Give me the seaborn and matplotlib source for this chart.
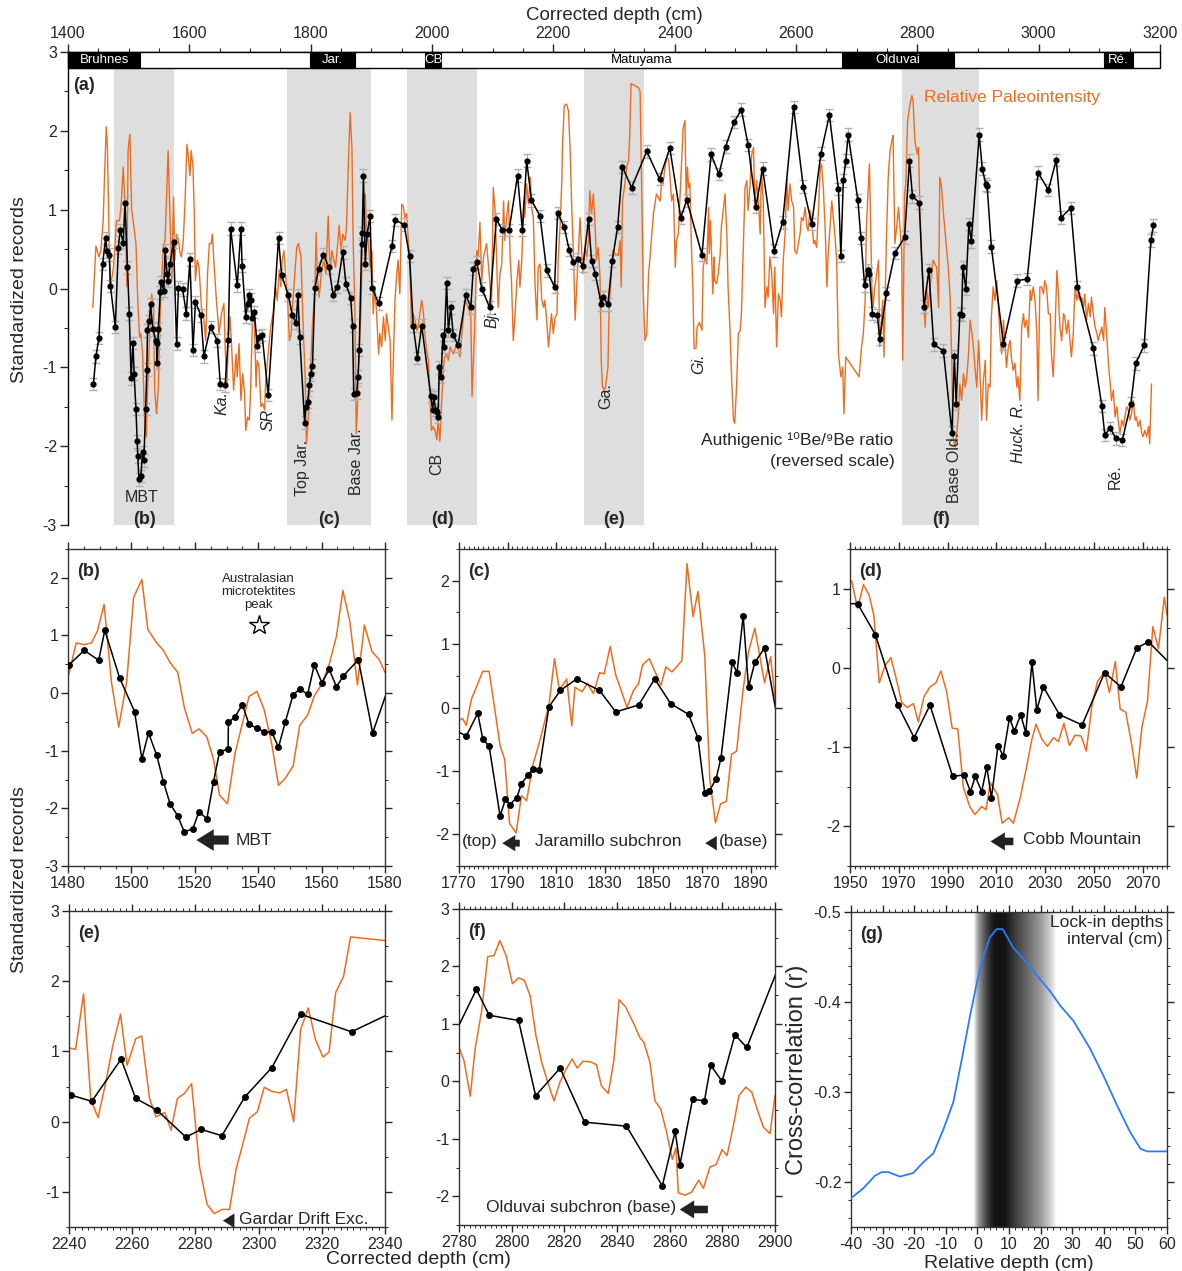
import numpy as np
import matplotlib
matplotlib.use("Agg")
import matplotlib.pyplot as plt
from matplotlib.patches import Rectangle
from matplotlib.ticker import MultipleLocator
import seaborn as sns

sns.set_theme(style="ticks")
plt.rcParams['font.family'] = ['Liberation Sans', 'DejaVu Sans']
plt.rcParams['axes.unicode_minus'] = False

ORANGE = '#f26b1d'
BAND = '#dedede'

# ---------------- panel (a) : whole record ----------------
be_depth = [1442, 1446, 1451, 1457, 1462, 1464, 1468, 1470, 1478, 1483, 1486, 1491, 1494, 1498, 1501, 1504,
            1507, 1509, 1512, 1514, 1515, 1517, 1520, 1523, 1525, 1528, 1530, 1531, 1534, 1536, 1540, 1545,
            1546, 1547, 1549, 1552, 1554, 1558, 1560, 1563, 1565, 1568, 1574, 1579, 1582, 1589, 1595, 1601,
            1606, 1610, 1619, 1624, 1635, 1646, 1651, 1659, 1664, 1668, 1679, 1685, 1687, 1693, 1696, 1698,
            1701, 1703, 1707, 1712, 1715, 1720, 1730, 1747, 1752, 1763, 1770, 1776, 1779, 1782, 1790, 1792,
            1795, 1798, 1800, 1803, 1807, 1813, 1821, 1830, 1837, 1844, 1853, 1858, 1866, 1869, 1871, 1876,
            1878, 1880, 1884, 1885, 1887, 1890, 1893, 1898, 1901, 1912, 1934, 1939, 1954, 1963, 1969, 1976,
            1983, 1998, 2001, 2003, 2006, 2008, 2010, 2012, 2015, 2018, 2020, 2024, 2027, 2031, 2035, 2043,
            2056, 2064, 2068, 2074, 2082, 2095, 2106, 2116, 2127, 2141, 2149, 2156, 2164, 2178, 2189, 2202,
            2207, 2218, 2226, 2233, 2241, 2249, 2258, 2263, 2269, 2279, 2282, 2290, 2297, 2306, 2314, 2329,
            2354, 2375, 2392, 2410, 2420, 2445, 2460, 2473, 2484, 2498, 2510, 2521, 2534, 2545, 2564, 2578,
            2596, 2612, 2626, 2641, 2655, 2670, 2674, 2678, 2682, 2686, 2702, 2707, 2713, 2718, 2721, 2726,
            2734, 2738, 2749, 2763, 2779, 2787, 2792, 2803, 2811, 2819, 2827, 2843, 2857, 2861, 2864, 2870,
            2873, 2875, 2880, 2885, 2889, 2902, 2907, 2913, 2915, 2922, 2942, 2965, 2981, 2999, 3016, 3029,
            3037, 3053, 3064, 3090, 3104, 3109, 3118, 3127, 3138, 3152, 3160, 3174, 3185, 3189]
be_value = [-1.21, -0.86, -0.63, 0.31, 0.64, 0.47, 0.43, 0.03, -0.49, 0.52, 0.74, 0.58, 1.09, 0.27, -0.32, -1.14,
            -0.69, -1.08, -1.53, -1.94, -2.13, -2.42, -2.38, -2.08, -2.18, -1.53, -1.03, -0.53, -0.41, -0.20, -0.52, -0.67,
            -0.69, -0.94, -0.51, -0.05, 0.08, -0.03, 0.49, 0.19, 0.10, 0.31, 0.59, -0.70, 0.01, -0.01, -0.32, 0.37,
            -0.78, -0.17, -0.34, -0.86, -0.49, -0.66, -1.21, -1.23, -0.65, 0.76, 0.04, 0.76, 0.29, -0.36, -0.20, -0.08,
            -0.14, -0.37, -0.30, -0.73, -0.61, -0.59, -1.35, 0.64, 0.17, -0.08, -0.34, -0.44, -0.08, -0.62, -1.70, -1.50,
            -1.44, -1.22, -1.09, -0.98, 0.01, 0.25, 0.43, 0.27, -0.08, 0.02, 0.46, 0.06, -0.12, -0.47, -1.34, -1.32,
            -1.12, -0.78, 0.56, 0.70, 1.43, 0.31, 0.69, 0.92, 0.01, -0.19, 0.54, 0.87, 0.81, 0.41, -0.47, -0.88,
            -0.47, -1.36, -1.54, -1.38, -1.54, -1.57, -1.63, -1.00, -1.12, -0.59, -0.74, 0.07, -0.53, -0.24, -0.59, -0.72,
            -0.08, -0.24, 0.25, 0.33, 0.00, -0.24, 0.88, 0.74, 0.74, 1.43, 0.74, 1.62, 1.12, 0.92, 0.23, 0.02,
            0.96, 0.78, 0.49, 0.33, 0.37, 0.29, 0.88, 0.35, 0.19, -0.20, -0.11, -0.20, 0.35, 0.78, 1.54, 1.28,
            1.74, 1.39, 1.78, 0.90, 1.12, 0.43, 1.70, 1.45, 1.80, 2.11, 2.27, 1.82, 1.04, 1.52, 0.48, 0.84,
            2.30, 1.29, 0.82, 1.71, 2.20, 1.26, 0.41, 1.37, 1.62, 1.95, 1.12, 0.64, 0.04, 0.23, 0.19, -0.32,
            -0.34, -0.64, -0.06, 0.45, 0.65, 1.62, 1.17, 1.09, -0.23, 0.23, -0.71, -0.79, -1.83, -0.86, -1.46, -0.32,
            -0.33, 0.27, 0.00, 0.82, 0.60, 1.95, 1.52, 1.32, 1.30, 0.53, -0.70, 0.10, 0.12, 1.47, 1.25, 1.63,
            0.90, 1.02, 0.02, -0.76, -1.49, -1.86, -1.77, -1.90, -1.92, -1.46, -0.95, -0.72, 0.61, 0.80]
be_err = 0.08

rpi_depth = [1441, 1446, 1451, 1454, 1458, 1460, 1463, 1465, 1468, 1470, 1475, 1480, 1485, 1488, 1491, 1494,
             1497, 1499, 1502, 1505, 1508, 1512, 1515, 1518, 1520, 1523, 1526, 1529, 1531, 1535, 1538, 1541,
             1543, 1546, 1549, 1552, 1554, 1557, 1560, 1563, 1565, 1568, 1571, 1574, 1576, 1579, 1582, 1585,
             1587, 1590, 1593, 1596, 1598, 1601, 1603, 1606, 1608, 1610, 1613, 1616, 1620, 1624, 1627, 1630,
             1633, 1636, 1638, 1641, 1645, 1649, 1653, 1657, 1659, 1662, 1664, 1667, 1670, 1673, 1677, 1679,
             1682, 1685, 1688, 1691, 1693, 1696, 1699, 1701, 1704, 1707, 1710, 1712, 1715, 1718, 1721, 1724,
             1726, 1730, 1734, 1738, 1742, 1745, 1748, 1751, 1753, 1756, 1759, 1762, 1765, 1768, 1770, 1774,
             1777, 1780, 1784, 1788, 1791, 1793, 1796, 1800, 1803, 1807, 1809, 1811, 1814, 1818, 1822, 1825,
             1829, 1832, 1835, 1837, 1841, 1844, 1847, 1850, 1853, 1857, 1859, 1862, 1865, 1868, 1870, 1873,
             1875, 1877, 1880, 1883, 1885, 1887, 1890, 1892, 1895, 1898, 1901, 1903, 1906, 1909, 1912, 1914,
             1917, 1920, 1923, 1925, 1928, 1931, 1934, 1936, 1939, 1942, 1944, 1947, 1950, 1953, 1955, 1958,
             1961, 1964, 1966, 1969, 1972, 1975, 1977, 1980, 1983, 1986, 1988, 1991, 1994, 1997, 1999, 2002,
             2005, 2008, 2010, 2013, 2016, 2019, 2021, 2024, 2027, 2030, 2035, 2041, 2046, 2054, 2060, 2064,
             2066, 2070, 2074, 2076, 2079, 2082, 2085, 2090, 2096, 2098, 2101, 2104, 2107, 2109, 2112, 2115,
             2118, 2120, 2123, 2126, 2129, 2131, 2134, 2137, 2140, 2143, 2145, 2148, 2151, 2153, 2156, 2159,
             2162, 2164, 2167, 2170, 2173, 2175, 2178, 2181, 2184, 2186, 2189, 2192, 2195, 2197, 2200, 2203,
             2206, 2208, 2211, 2214, 2215, 2218, 2222, 2225, 2228, 2230, 2233, 2236, 2239, 2241, 2244, 2247,
             2249, 2252, 2255, 2258, 2260, 2263, 2266, 2269, 2271, 2274, 2277, 2279, 2281, 2284, 2286, 2290,
             2292, 2295, 2298, 2302, 2307, 2310, 2312, 2314, 2318, 2321, 2324, 2326, 2328, 2340, 2343, 2346,
             2348, 2351, 2354, 2357, 2359, 2365, 2370, 2376, 2379, 2381, 2384, 2387, 2390, 2392, 2395, 2398,
             2401, 2403, 2406, 2409, 2412, 2414, 2417, 2419, 2421, 2423, 2425, 2428, 2430, 2432, 2435, 2437,
             2441, 2445, 2447, 2450, 2453, 2456, 2457, 2459, 2463, 2465, 2466, 2469, 2472, 2475, 2477, 2480,
             2483, 2486, 2488, 2491, 2494, 2497, 2499, 2502, 2505, 2508, 2510, 2513, 2516, 2519, 2521, 2524,
             2527, 2530, 2532, 2535, 2538, 2541, 2543, 2546, 2549, 2552, 2554, 2557, 2560, 2563, 2565, 2568,
             2571, 2574, 2576, 2579, 2582, 2585, 2587, 2590, 2593, 2596, 2598, 2601, 2604, 2607, 2609, 2612,
             2615, 2618, 2620, 2623, 2626, 2629, 2631, 2634, 2637, 2640, 2642, 2645, 2648, 2651, 2653, 2656,
             2659, 2662, 2664, 2667, 2670, 2674, 2677, 2679, 2682, 2689, 2697, 2704, 2708, 2711, 2714, 2716,
             2721, 2725, 2727, 2730, 2736, 2738, 2743, 2745, 2749, 2752, 2755, 2758, 2760, 2763, 2766, 2769,
             2771, 2774, 2776, 2779, 2781, 2784, 2788, 2791, 2793, 2796, 2800, 2802, 2804, 2807, 2810, 2813,
             2815, 2818, 2821, 2824, 2826, 2829, 2832, 2835, 2837, 2840, 2843, 2847, 2851, 2854, 2857, 2859,
             2862, 2865, 2868, 2870, 2873, 2876, 2879, 2881, 2884, 2887, 2890, 2892, 2895, 2898, 2901, 2903,
             2906, 2909, 2912, 2914, 2917, 2920, 2922, 2925, 2928, 2931, 2933, 2936, 2939, 2942, 2944, 2947,
             2950, 2953, 2955, 2958, 2961, 2964, 2966, 2969, 2972, 2975, 2977, 2980, 2983, 2986, 2988, 2991,
             2994, 2997, 2999, 3002, 3005, 3008, 3010, 3013, 3016, 3019, 3021, 3024, 3027, 3030, 3032, 3035,
             3038, 3041, 3043, 3046, 3049, 3052, 3054, 3057, 3060, 3063, 3065, 3068, 3071, 3074, 3076, 3079,
             3082, 3085, 3087, 3090, 3093, 3096, 3098, 3101, 3104, 3107, 3109, 3112, 3115, 3118, 3120, 3123,
             3126, 3129, 3131, 3134, 3137, 3140, 3142, 3145, 3148, 3150, 3153, 3156, 3159, 3161, 3164, 3167,
             3170, 3172, 3175, 3178, 3181, 3183, 3186]
rpi_value = [-0.24, 0.54, 0.40, 0.48, 0.86, 1.37, 2.05, 1.79, 0.52, 0.02, 0.27, 0.86, 0.86, 1.11, 1.54, 1.07,
             0.02, 1.75, 1.96, 0.99, 0.82, 0.57, -0.15, -0.62, -0.57, -0.83, -1.59, -1.88, -1.33, -0.49, -0.07, -0.24,
             -1.29, -1.59, -1.25, -0.32, 0.06, 0.52, 0.61, 1.28, 1.75, 0.90, 0.10, 1.16, 0.36, 0.69, 0.61, 0.44,
             0.40, 0.61, 1.11, 1.83, 1.71, 1.43, 1.75, 1.54, 0.99, 0.10, 0.36, 0.27, -0.24, -0.40, -0.66, 0.19,
             0.57, 0.57, 0.69, 0.27, -0.19, -0.57, -0.32, -0.19, -0.74, -1.25, -0.70, -0.36, -0.78, -1.29, -0.83, -1.12,
             -0.70, -1.42, -1.08, -1.33, -1.80, -1.63, -1.67, -1.29, -0.40, -0.32, -1.25, -0.91, -1.00, -1.50, -1.46, -1.54,
             -1.16, -0.83, -0.49, -0.32, 0.02, -0.15, 0.23, 0.02, 0.36, 0.48, 0.14, -0.15, -0.66, -0.57, -0.24, 0.19,
             0.52, 0.57, 0.40, -0.57, -1.12, -1.97, -1.67, -1.00, -0.45, 0.00, 0.71, 0.14, -0.11, 0.23, 0.36, 0.19,
             0.92, 0.19, 0.48, 0.40, 0.27, 0.52, 0.80, 0.48, 0.69, 0.61, 0.78, 1.54, 2.23, 1.79, 0.61, -0.32,
             -1.84, -1.54, -0.83, -0.24, 0.52, 1.11, 1.20, 0.69, 0.61, 0.27, 0.48, -0.32, 0.02, -0.36, -0.83, -0.57,
             -0.74, -0.36, -0.66, -0.32, -0.49, -0.66, -1.67, -1.00, -0.15, 0.19, 0.36, -0.07, 1.07, 1.03, 0.90, 0.95,
             0.61, 0.19, -0.45, -0.32, -0.40, -0.53, -0.49, -0.32, -0.15, -0.32, -0.57, -0.78, -0.91, -1.42, -1.80, -1.75,
             -1.80, -1.92, -1.67, -1.94, -1.42, -1.00, -0.87, -0.83, -0.91, -0.74, -0.83, -0.70, -0.87, -0.15, -0.24, -0.36,
             -1.37, -0.57, 0.48, 0.40, 0.84, 0.10, 0.40, 0.57, 0.02, -0.26, 1.28, 0.99, 0.23, -0.24, 0.19, 0.31,
             1.11, 0.61, 0.90, 1.11, 0.36, 0.10, -0.66, -0.32, 0.10, 0.36, 0.02, 0.36, 1.11, 0.90, 1.33, 1.07,
             1.41, 1.03, 0.90, 0.02, -0.40, 0.27, 0.31, -0.15, -0.24, -0.15, -0.40, -0.74, -0.49, -0.32, -0.57, -0.36,
             -0.32, 0.36, 0.78, 1.37, 1.79, 2.32, 2.34, 2.25, 1.70, 1.11, 0.48, -0.40, 0.10, 0.40, 0.90, 0.44,
             0.19, 0.52, 0.40, 0.61, 1.24, 0.95, 1.20, 0.78, 0.36, 0.52, 0.14, -0.91, -1.25, -1.29, -1.25, -1.00,
             -0.24, 0.10, 0.48, 0.44, 0.42, 0.61, 0.02, 1.11, 1.33, 1.54, 1.62, 1.96, 2.60, 2.55, 2.50, 1.11,
             0.02, -0.66, -0.57, 0.19, 0.36, 0.95, 1.20, 1.11, 1.37, 1.33, 1.54, 1.66, 1.64, 1.45, 1.11, 1.20,
             0.27, 0.61, 0.69, 1.20, 1.70, 2.04, 2.13, 1.11, 1.54, 1.28, 1.33, 0.44, 0.02, -0.76, -0.76, -0.49,
             -0.43, -0.53, 0.27, 0.40, 0.31, 1.03, 0.44, 0.86, -0.07, 0.40, 0.10, 0.06, 0.19, 0.44, 0.78, 0.99,
             1.20, 0.69, 0.02, -0.49, -1.16, -1.67, -1.71, -1.25, -0.57, -0.53, -0.32, 0.48, 1.28, 1.37, 0.99, 1.28,
             1.70, 1.79, 1.03, 1.37, 1.11, 0.69, 1.49, 1.11, -0.24, 0.02, -0.11, 0.40, 0.19, -0.32, 0.27, -0.74,
             -0.07, -0.15, -0.36, 0.36, 0.69, 1.39, 0.99, 1.33, 1.11, 1.03, 0.48, 0.44, 0.57, 0.71, 0.90, 0.86,
             1.03, 0.78, 0.73, 0.99, 0.86, 0.57, 0.61, 0.52, 0.99, 1.54, 1.58, 1.28, 0.78, 0.02, 0.44, 0.78,
             1.11, 0.86, 0.69, 0.36, -0.83, -1.12, -1.00, -1.59, -0.87, -0.95, -1.04, -1.12, -0.74, -0.57, -0.15, 0.78,
             1.58, 0.02, -0.24, 0.02, 0.36, -0.74, -0.15, -0.87, 0.61, 1.41, 1.75, 1.87, 1.94, 0.57, 0.78, 1.03,
             0.82, 0.48, -0.91, 1.20, 1.33, 2.13, 2.34, 2.45, 2.38, 1.87, 1.70, 1.79, 1.07, 0.36, -0.11, -0.49,
             0.02, -0.24, 0.02, 0.23, 0.36, 0.31, 0.27, -0.24, 1.41, 1.28, 0.95, 0.61, 0.27, -0.11, -1.00, -1.88,
             -2.01, -1.84, -1.54, -1.21, -1.42, -1.08, -1.25, -1.16, -0.87, -0.40, -0.57, -0.70, -1.00, -1.25, -0.66, -1.00,
             -1.67, -1.16, -0.91, -1.67, -1.21, -1.25, -0.36, 0.02, -0.15, 0.10, -0.15, -0.57, -0.83, -0.40, -0.66, -1.00,
             -0.74, -0.66, -0.87, -1.04, -0.95, -1.25, -1.12, -1.42, -0.49, -0.32, -0.49, -0.40, -0.62, -0.02, -0.15, 0.02,
             -0.15, -0.57, -1.42, 0.02, 0.02, -0.07, 0.10, 0.02, -0.32, -0.32, -0.83, -1.12, -0.53, 0.23, 0.02, -0.49,
             -0.66, -0.32, -0.36, -0.57, -0.40, -0.70, -0.87, -0.57, 0.02, -0.15, -0.07, -0.15, -0.11, -0.24, -0.07, -0.40,
             -0.19, -0.36, -0.11, -0.32, -0.49, -0.57, -0.66, -0.57, -0.49, -0.66, -0.24, -0.57, -0.95, -1.21, -1.42, -1.29,
             -1.63, -1.50, -1.67, -1.84, -1.67, -1.75, -1.63, -1.50, -1.54, -1.67, -1.59, -1.42, -1.67, -1.63, -1.75, -1.67,
             -1.84, -1.88, -1.80, -1.88, -1.75, -1.97, -1.21]

window_bands = [(1476, 1575), (1761, 1899), (1959, 2074), (2250, 2349), (2775, 2902)]
window_names = ['(b)', '(c)', '(d)', '(e)', '(f)']
chron_black = [(1400, 1519, 'Bruhnes'), (1799, 1873, 'Jar.'), (1989, 2015, 'CB'),
               (2676, 2861, 'Olduvai'), (3108, 3155, 'Ré.')]

# ---------------- zoom windows ----------------
b_be_depth = [1480.3, 1485.1, 1489.7, 1491.6, 1496.3, 1501.0, 1503.3, 1505.4, 1508.0, 1510.1, 1512.2, 1514.6,
              1516.7, 1519.4, 1521.3, 1523.8, 1525.9, 1527.8, 1530.5, 1530.6, 1532.7, 1535.0, 1537.1, 1539.6,
              1541.9, 1544.3, 1546.4, 1548.5, 1551.0, 1553.1, 1555.6, 1557.7, 1560.1, 1562.4, 1564.7, 1566.9,
              1571.6, 1576.1, 1583.0]
b_be_value = [0.49, 0.74, 0.57, 1.09, 0.26, -0.32, -1.14, -0.69, -1.08, -1.54, -1.92, -2.13, -2.41, -2.35,
              -2.06, -2.18, -1.54, -1.02, -0.97, -0.51, -0.41, -0.20, -0.54, -0.61, -0.67, -0.68, -0.94, -0.51,
              -0.03, 0.07, -0.02, 0.49, 0.18, 0.41, 0.11, 0.30, 0.58, -0.69, 0.40]
b_rpi_depth = [1480, 1482.6, 1485.1, 1487.4, 1489.3, 1491.4, 1493.7, 1496.0, 1498.5, 1500.7, 1503.3, 1505.2,
               1508.0, 1510.1, 1512.2, 1514.6, 1516.7, 1519.2, 1521.3, 1523.8, 1525.9, 1527.8, 1530.3, 1532.7,
               1535.0, 1537.1, 1539.6, 1541.9, 1544.3, 1546.4, 1548.5, 1551.0, 1553.1, 1555.6, 1557.7, 1560.1,
               1562.4, 1564.7, 1566.7, 1568.9, 1571.3, 1573.5, 1575.9, 1578.2, 1580]
b_rpi_value = [0.27, 0.87, 0.84, 0.87, 1.08, 1.54, 0.19, -0.59, 0.19, 1.66, 1.97, 1.10, 0.87, 0.74, 0.53, 0.36,
               -0.25, -0.70, -0.62, -0.76, -1.15, -1.77, -1.92, -1.04, -0.53, -0.06, 0.03, -0.29, -0.89, -1.60,
               -1.48, -1.27, -0.56, -0.38, -0.05, 0.16, 0.50, 0.99, 1.78, 1.25, 0.14, 1.18, 0.72, 0.58, 0.36]

c_be_depth = [1768, 1773.0, 1777.7, 1779.8, 1782.4, 1786.9, 1789.1, 1791.0, 1793.8, 1795.7, 1798.5, 1800.5,
              1803.0, 1807.0, 1811.7, 1818.4, 1827.8, 1834.5, 1843.9, 1850.5, 1857.1, 1864.5, 1868.3, 1871.1,
              1873.0, 1875.8, 1877.8, 1882.4, 1884.4, 1886.9, 1889.1, 1891.7, 1895.7, 1903]
c_be_value = [-0.35, -0.45, -0.09, -0.50, -0.61, -1.71, -1.45, -1.53, -1.42, -1.20, -1.06, -0.97, -0.98, 0.01,
              0.27, 0.45, 0.27, -0.07, 0.04, 0.45, 0.06, -0.11, -0.48, -1.35, -1.32, -1.12, -0.79, 0.71, 0.55,
              1.45, 0.32, 0.71, 0.94, -0.60]
c_rpi_depth = [1770, 1771.4, 1773.0, 1775.1, 1779.8, 1782.4, 1784.3, 1786.9, 1788.8, 1790.8, 1793.5, 1795.7,
               1797.8, 1800.5, 1803.0, 1807.0, 1809.3, 1811.3, 1814.3, 1816.4, 1817.7, 1820.6, 1822.8, 1825.3,
               1827.8, 1829.7, 1832.2, 1834.5, 1837.0, 1839.1, 1841.8, 1843.9, 1845.5, 1848.3, 1850.7, 1853.1,
               1855.1, 1857.6, 1861.7, 1863.8, 1866.3, 1868.3, 1871.1, 1873.2, 1875.5, 1877.6, 1880.0, 1882.1,
               1884.2, 1886.9, 1889.1, 1891.7, 1895.7, 1898.2, 1900]
c_rpi_value = [-0.21, -0.17, -0.28, 0.13, 0.57, 0.57, 0.08, -0.60, -0.82, -1.83, -1.98, -1.39, -1.47, -0.89,
               -0.56, 0.04, 0.77, 0.28, 0.45, -0.29, 0.32, 0.25, 0.38, 0.22, 0.55, 0.53, 0.96, 0.51, 0.24, 0.00,
               0.27, 0.38, 0.67, 0.77, 0.56, 0.35, 0.64, 0.56, 0.74, 2.27, 1.43, 1.83, 0.82, -1.14, -1.82, -1.52,
               -1.48, -0.74, -0.69, 0.29, 0.88, 1.25, 0.39, 0.80, 0.15]

d_be_depth = [1947, 1953.1, 1960.4, 1969.6, 1976.3, 1982.8, 1992.1, 1996.8, 1999.4, 2001.4, 2004.0, 2006.1,
              2008.0, 2010.7, 2012.8, 2015.4, 2017.4, 2020.0, 2022.1, 2024.6, 2026.6, 2029.3, 2035.9, 2045.2,
              2054.4, 2061.1, 2067.6, 2072.4, 2083]
d_be_value = [0.81, 0.81, 0.42, -0.47, -0.88, -0.47, -1.37, -1.35, -1.56, -1.37, -1.56, -1.25, -1.64, -0.98,
              -1.11, -0.63, -0.80, -0.59, -0.82, 0.07, -0.53, -0.24, -0.59, -0.72, -0.06, -0.24, 0.25, 0.33, 0.0]
d_rpi_depth = [1950, 1950.7, 1953.1, 1955.5, 1957.8, 1959.8, 1962.0, 1964.4, 1966.8, 1969.6, 1971.2, 1973.5,
               1976.0, 1978.0, 1980.4, 1982.8, 1985.2, 1987.3, 1989.7, 1991.9, 1994.2, 1996.5, 1999.1, 2001.2,
               2004.0, 2005.8, 2007.5, 2010.5, 2012.4, 2015.1, 2017.0, 2019.8, 2022.1, 2024.6, 2026.3, 2028.7,
               2031.0, 2033.4, 2035.5, 2037.7, 2040.0, 2042.3, 2044.8, 2046.9, 2049.2, 2051.5, 2054.4, 2056.4,
               2058.8, 2060.8, 2063.1, 2065.6, 2067.6, 2069.7, 2072.0, 2074.2, 2076.5, 2078.9, 2080]
d_rpi_value = [1.09, 1.10, 0.75, 1.05, 0.92, 0.66, -0.19, 0.03, 0.13, -0.22, -0.44, -0.50, -0.45, -0.68, -0.36,
               -0.24, -0.19, -0.04, -0.31, -0.76, -0.77, -1.51, -1.75, -1.85, -1.75, -1.79, -1.45, -1.60, -1.96,
               -1.89, -1.96, -1.64, -1.30, -0.90, -0.71, -0.90, -0.99, -0.88, -0.93, -0.70, -0.98, -0.85, -0.86,
               -1.05, -0.48, -0.17, -0.05, -0.31, 0.08, -0.52, -0.56, -0.98, -1.39, -0.75, -0.42, 0.52, 0.24, 0.89,
               0.67]

e_be_depth = [2240.5, 2247.2, 2256.5, 2261.1, 2267.7, 2277.0, 2281.8, 2288.4, 2295.6, 2304.2, 2313.3, 2329.4, 2350]
e_be_value = [0.38, 0.29, 0.89, 0.33, 0.17, -0.22, -0.11, -0.20, 0.35, 0.77, 1.53, 1.28, 1.72]
e_rpi_depth = [2240.0, 2242.1, 2244.6, 2246.9, 2249.2, 2251.6, 2253.8, 2256.3, 2258.4, 2261.1, 2263.0, 2265.5,
               2267.5, 2270.3, 2272.3, 2274.3, 2276.5, 2278.8, 2281.3, 2283.7, 2286.0, 2288.4, 2290.8, 2292.9,
               2295.0, 2297.1, 2299.6, 2301.8, 2304.2, 2306.7, 2308.8, 2311.1, 2313.3, 2315.7, 2318.0, 2320.4,
               2322.3, 2324.4, 2326.9, 2329.1, 2340]
e_rpi_value = [1.05, 1.03, 1.82, 0.31, 0.06, 0.55, 1.07, 1.53, 0.80, 1.18, 1.22, 0.33, 0.07, 0.13, -0.12, 0.33,
               0.40, 0.54, -0.64, -1.18, -1.31, -1.25, -1.25, -0.67, -0.32, 0.05, 0.14, 0.49, 0.43, 0.41, 0.46,
               0.00, 1.31, 1.62, 1.17, 0.92, 0.99, 1.84, 2.07, 2.63, 2.58]

f_be_depth = [2776, 2786.6, 2791.5, 2802.6, 2809.1, 2818.4, 2827.7, 2843.6, 2857.2, 2862.1, 2863.9, 2868.7,
              2873.2, 2875.6, 2879.9, 2884.8, 2889.3, 2904]
f_be_value = [0.60, 1.60, 1.15, 1.06, -0.25, 0.23, -0.71, -0.78, -1.82, -0.87, -1.45, -0.31, -0.34, 0.28, 0.00,
              0.81, 0.59, 2.30]
f_rpi_depth = [2780.0, 2781.9, 2784.3, 2786.1, 2788.6, 2790.9, 2793.3, 2795.5, 2797.9, 2800.3, 2802.6, 2804.8,
               2807.0, 2809.2, 2811.4, 2813.8, 2816.1, 2818.3, 2820.5, 2823.0, 2824.9, 2827.1, 2829.9, 2832.2,
               2834.1, 2836.7, 2838.8, 2840.8, 2843.2, 2846.2, 2848.7, 2850.2, 2852.5, 2854.4, 2856.6, 2858.8,
               2861.0, 2862.4, 2863.3, 2865.8, 2868.3, 2871.0, 2872.8, 2875.3, 2877.6, 2879.9, 2881.8, 2884.2,
               2886.3, 2888.9, 2891.2, 2893.7, 2895.6, 2898.1, 2900]
f_rpi_value = [0.59, 0.36, -0.26, 0.56, 1.23, 2.17, 2.19, 2.45, 2.19, 1.70, 1.80, 1.76, 1.49, 0.80, 0.33, -0.03,
               -0.34, -0.02, 0.20, 0.39, 0.23, 0.35, 0.34, 0.29, -0.08, -0.21, 0.36, 1.42, 1.30, 1.02, 0.76, 0.68,
               0.33, -0.34, -0.48, -0.88, -1.36, -1.16, -1.94, -1.98, -1.93, -1.72, -1.86, -1.49, -1.45, -1.19,
               -1.29, -0.77, -0.25, -0.10, -0.19, -0.55, -0.80, -0.91, -0.25]

# ---------------- (g) cross-correlation ----------------
lag_cm = [-40, -36.1, -32.4, -30.3, -28.2, -24.5, -20.3, -17.1, -13.9, -10.7, -7.6, -4.9, -2.3, -0.2, 1.9,
          4.0, 6.1, 8.0, 11.4, 15.6, 19.9, 23.0, 26.2, 30.4, 35.7, 39.9, 44.2, 48.4, 51.6, 53.7, 60]
xcorr_r = [-0.182, -0.193, -0.207, -0.211, -0.211, -0.206, -0.210, -0.222, -0.232, -0.259, -0.289, -0.337,
           -0.385, -0.421, -0.451, -0.472, -0.481, -0.481, -0.460, -0.444, -0.425, -0.412, -0.396, -0.379,
           -0.348, -0.318, -0.285, -0.255, -0.237, -0.234, -0.234]
lockin_x = [-1.2, 0, 2, 4, 5.5, 8.5, 12, 16, 20, 23, 25]
lockin_shade = [0.05, 0.4, 0.7, 0.92, 1, 1, 0.82, 0.62, 0.42, 0.2, 0.0]

W, H = 1182, 1271
fig = plt.figure(figsize=(W / 100, H / 100), dpi=100)


def px_axes(left, top, right, bottom):
    return fig.add_axes([left / W, 1 - bottom / H, (right - left) / W, (bottom - top) / H])


def draw_pair(ax, rd, rv, bd, bv, ms=5):
    sns.lineplot(x=rd, y=rv, ax=ax, color=ORANGE, lw=1.1, sort=False, estimator=None, zorder=2)
    sns.lineplot(x=bd, y=bv, ax=ax, color='black', lw=1.1, marker='o', markersize=ms,
                 markeredgewidth=0, sort=False, estimator=None, zorder=3)


def arrow(ax, x_tail, x_head, y, size=1.0):
    ax.annotate('', xy=(x_head, y), xytext=(x_tail, y),
                arrowprops=dict(arrowstyle='simple,head_width=1.0,head_length=0.8,tail_width=0.42',
                                mutation_scale=13 * size, shrinkA=0, shrinkB=0,
                                color='#222222', lw=0))


# ---------- (a) ----------
ax = px_axes(68, 52, 1160, 525)
for (x0, x1), nm in zip(window_bands, window_names):
    ax.fill_between([x0, x1], -3, 2.8, color=BAND, lw=0, zorder=0)
    ax.text((x0 + x1) / 2, -2.93, nm, ha='center', va='center', fontsize=13, fontweight='bold')
sns.lineplot(x=rpi_depth, y=rpi_value, ax=ax, color=ORANGE, lw=1.0, sort=False, estimator=None, zorder=2)
ax.errorbar(be_depth, be_value, yerr=be_err, fmt='none', ecolor='#b0b0b0', elinewidth=0.8, capsize=3, zorder=2.5)
sns.lineplot(x=be_depth, y=be_value, ax=ax, color='black', lw=1.1, marker='o', markersize=4.5,
             markeredgewidth=0, sort=False, estimator=None, zorder=3)

ax.add_patch(Rectangle((1400, 2.8), 1800, 0.2, fc='white', ec='black', lw=1, zorder=4, clip_on=False))
for x0, x1, nm in chron_black:
    ax.add_patch(Rectangle((x0, 2.8), x1 - x0, 0.2, fc='black', ec='black', lw=0.8, zorder=4))
    ax.text((x0 + x1) / 2, 2.9, nm, color='white', ha='center', va='center', fontsize=9.5, zorder=5)
ax.text(2346, 2.9, 'Matuyama', color='black', ha='center', va='center', fontsize=9.5, zorder=5)

ax.set_xlim(1400, 3200)
ax.set_ylim(-3, 3)
ax.xaxis.tick_top()
ax.xaxis.set_label_position('top')
ax.set_xlabel('Corrected depth (cm)', fontsize=13.5, labelpad=4)
ax.set_ylabel('')
ax.xaxis.set_major_locator(MultipleLocator(200))
ax.xaxis.set_minor_locator(MultipleLocator(50))
ax.yaxis.set_major_locator(MultipleLocator(1))
ax.yaxis.set_minor_locator(MultipleLocator(0.5))
ax.tick_params(axis='both', which='major', labelsize=11.5, length=6, width=1, direction='out', pad=2)
ax.tick_params(axis='both', which='minor', length=3, width=0.8, direction='out')
for s in ['right', 'bottom']:
    ax.spines[s].set_visible(False)
for s in ['left', 'top']:
    ax.spines[s].set_linewidth(1)
    ax.spines[s].set_color('black')

ax.text(1408, 2.57, '(a)', fontsize=13, fontweight='bold', va='center')
ax.text(2811, 2.42, 'Relative Paleointensity', color=ORANGE, fontsize=12.5, va='center')
ax.text(2760, -1.92, 'Authigenic ¹⁰Be/⁹Be ratio', fontsize=12.5, ha='right', va='center')
ax.text(2762, -2.2, '(reversed scale)', fontsize=12.5, ha='right', va='center')
ax.text(1522, -2.65, 'MBT', fontsize=11.5, ha='center', va='center')
rot_labels = [(1654, -1.45, 'Ka.', 'italic'), (1730, -1.67, 'SR', 'italic'),
              (1787, -2.28, 'Top Jar.', 'normal'), (1875, -2.2, 'Base Jar.', 'normal'),
              (2008, -2.22, 'CB', 'normal'), (2099, -0.38, 'Bj.', 'italic'),
              (2287, -1.37, 'Ga.', 'normal'), (2440, -0.95, 'Gi.', 'italic'),
              (2862, -2.28, 'Base Old.', 'normal'), (2966, -1.82, 'Huck. R.', 'italic'),
              (3126, -2.38, 'Ré.', 'normal')]
for x, y, t, st in rot_labels:
    ax.text(x, y, t, rotation=90, fontsize=11.5, style=st, ha='center', va='center')

fig.text(20 / W, 1 - 290 / H, 'Standardized records', rotation=90, fontsize=14, ha='center', va='center')
fig.text(20 / W, 1 - 880 / H, 'Standardized records', rotation=90, fontsize=14, ha='center', va='center')
fig.text(418 / W, 1 - 1260 / H, 'Corrected depth (cm)', fontsize=14, ha='center', va='center')


def style_sub(ax, xlim, xticks, ylim, label, xminor=2, yminor=0.5, ymajor=1):
    ax.set_xlim(*xlim)
    ax.set_ylim(*ylim)
    ax.set_xticks(xticks)
    ax.xaxis.set_minor_locator(MultipleLocator(xminor))
    ax.yaxis.set_major_locator(MultipleLocator(ymajor))
    ax.yaxis.set_minor_locator(MultipleLocator(yminor))
    ax.tick_params(axis='both', which='both', top=True, right=True, direction='out')
    ax.tick_params(axis='both', which='major', labelsize=11.5, length=5, width=1, pad=2)
    ax.tick_params(axis='both', which='minor', length=2.5, width=0.7)
    ax.set_xlabel('')
    ax.set_ylabel('')
    for s in ax.spines.values():
        s.set_linewidth(1)
        s.set_color('#333333')
    ax.text(0.03, 0.955, label, transform=ax.transAxes, fontsize=13, fontweight='bold', va='top')


# ---------- (b) ----------
ax = px_axes(68, 549, 385, 866)
draw_pair(ax, b_rpi_depth, b_rpi_value, b_be_depth, b_be_value)
style_sub(ax, (1480, 1580), range(1480, 1581, 20), (-3, 2.5), '(b)', xminor=5)
ax.plot(1540.2, 1.18, marker='*', ms=15, mfc='white', mec='black', mew=1)
ax.text(1540, 1.75, 'Australasian\nmicrotektites\npeak', fontsize=9.5, ha='center', va='center', linespacing=1.1)
arrow(ax, 1530.7, 1520.5, -2.55, 1.2)
ax.text(1533, -2.55, 'MBT', fontsize=12.5, va='center')

# ---------- (c) ----------
ax = px_axes(459, 549, 775, 866)
draw_pair(ax, c_rpi_depth, c_rpi_value, c_be_depth, c_be_value)
style_sub(ax, (1770, 1900), range(1770, 1901, 20), (-2.5, 2.5), '(c)')
ax.text(1771.3, -2.12, '(top)', fontsize=12.5, va='center')
arrow(ax, 1795, 1787.8, -2.14, 0.9)
ax.text(1801.3, -2.12, 'Jaramillo subchron', fontsize=12.5, va='center')
arrow(ax, 1875.6, 1871.3, -2.14, 0.8)
ax.text(1876.8, -2.12, '(base)', fontsize=12.5, va='center')

# ---------- (d) ----------
ax = px_axes(850, 549, 1167, 866)
draw_pair(ax, d_rpi_depth, d_rpi_value, d_be_depth, d_be_value)
style_sub(ax, (1950, 2080), range(1950, 2071, 20), (-2.5, 1.5), '(d)')
arrow(ax, 2017, 2007.6, -2.19, 1.0)
ax.text(2020.8, -2.17, 'Cobb Mountain', fontsize=12.5, va='center')

# ---------- (e) ----------
ax = px_axes(69, 911, 385, 1227)
draw_pair(ax, e_rpi_depth, e_rpi_value, e_be_depth, e_be_value)
style_sub(ax, (2240, 2340), range(2240, 2341, 20), (-1.5, 3), '(e)')
arrow(ax, 2292.2, 2288.7, -1.41, 0.8)
ax.text(2293.8, -1.39, 'Gardar Drift Exc.', fontsize=12.5, va='center')

# ---------- (f) ----------
ax = px_axes(459, 909, 775, 1225)
draw_pair(ax, f_rpi_depth, f_rpi_value, f_be_depth, f_be_value)
style_sub(ax, (2780, 2900), range(2780, 2901, 20), (-2.5, 3), '(f)')
ax.text(2862.5, -2.2, 'Olduvai subchron (base)', fontsize=12.5, ha='right', va='center')
arrow(ax, 2874.5, 2863.8, -2.23, 1.0)

# ---------- (g) ----------
ax = px_axes(851, 912, 1167, 1227)
xs = np.linspace(lockin_x[0], lockin_x[-1], 400)
shade = np.interp(xs, lockin_x, lockin_shade)
ax.imshow((1 - 0.92 * shade)[None, :], extent=[lockin_x[0], lockin_x[-1], -0.15, -0.5],
          cmap='gray', vmin=0, vmax=1, aspect='auto', zorder=0, interpolation='bilinear')
sns.lineplot(x=lag_cm, y=xcorr_r, ax=ax, color='#2b7bff', lw=1.3, sort=False, estimator=None, zorder=3)
style_sub(ax, (-40, 60), range(-40, 61, 10), (-0.15, -0.5), '(g)', xminor=2, yminor=0.02, ymajor=0.1)
ax.set_ylim(-0.15, -0.5)
ax.set_yticks([-0.5, -0.4, -0.3, -0.2])
ax.set_yticklabels(['-0.5', '-0.4', '-0.3', '-0.2'])
ax.set_ylabel('Cross-correlation (r)', fontsize=17, labelpad=4)
ax.set_xlabel('Relative depth (cm)', fontsize=14, labelpad=2)
ax.text(58.8, -0.497, 'Lock-in depths\ninterval (cm)', fontsize=12.5, ha='right', va='top', linespacing=1.2)

fig.savefig('out.png', dpi=100)
